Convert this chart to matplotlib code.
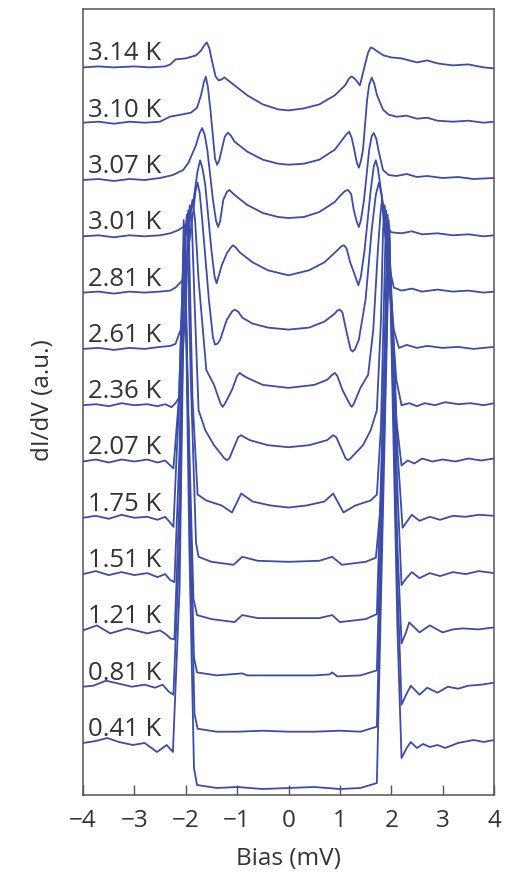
import matplotlib
matplotlib.use("Agg")
import matplotlib.pyplot as plt

plt.rcParams['font.family'] = ['Open Sans', 'DejaVu Sans']
plt.rcParams['axes.unicode_minus'] = True

# Temperature labels (bottom to top)
temps = ['0.41 K', '0.81 K', '1.21 K', '1.51 K', '1.75 K', '2.07 K', '2.36 K',
         '2.61 K', '2.81 K', '3.01 K', '3.07 K', '3.10 K', '3.14 K']

# dI/dV spectra (a.u.); bias in mV
bias_041 = [-4.0,-3.75,-3.53,-3.3,-3.03,-2.8,-2.56,-2.45,-2.37,-2.25,-2.12,-2.02,-1.93,-1.84,-1.78,-1.4,-1.0,-0.5,0.0,0.5,1.0,1.4,1.72,1.96,2.12,2.2,2.3,2.38,2.5,2.62,2.75,2.9,3.05,3.3,3.6,3.8,4.0]
didv_041 = [45,47,50,46,43,45,36,40,43,36,200,553,240,20,3,0,1,-1,0,1,-1,0,5,553,160,30,40,46,40,44,41,43,40,45,48,46,48]

bias_081 = [-4.0,-3.8,-3.55,-3.3,-3.05,-2.8,-2.6,-2.45,-2.33,-2.24,-2.12,-2.02,-1.92,-1.83,-1.77,-1.4,-1.0,-0.5,0.0,0.5,1.0,1.4,1.72,1.96,2.12,2.2,2.28,2.38,2.55,2.7,2.9,3.1,3.3,3.5,3.75,4.0]
didv_081 = [45,46,51,48,45,47,44,47,40,37,190,502,220,18,3,0,0,1,0,0,1,0,5,502,150,27,36,46,37,44,39,45,43,46,47,49]

bias_121 = [-4.0,-3.73,-3.47,-3.14,-2.9,-2.75,-2.5,-2.38,-2.3,-2.22,-2.12,-2.03,-1.93,-1.84,-1.78,-1.4,-0.9,-0.8,-0.5,0.0,0.5,0.8,0.85,0.95,1.4,1.72,1.96,2.12,2.2,2.28,2.35,2.55,2.75,3.0,3.2,3.4,3.7,4.0]
didv_121 = [45,50,42,47,44,42,45,41,37,36,180,450,200,18,3,0,2,0,0,0,0,1,3,-1,0,5,450,130,32,42,53,43,50,43,46,47,46,48]

bias_151 = [-4.0,-3.75,-3.5,-3.25,-3.0,-2.75,-2.55,-2.4,-2.3,-2.22,-2.12,-2.04,-1.94,-1.85,-1.78,-1.5,-1.05,-0.9,-0.6,0.0,0.6,0.85,1.0,1.5,1.72,1.95,2.12,2.2,2.28,2.4,2.55,2.75,2.95,3.2,3.45,3.7,4.0]
didv_151 = [45,48,44,47,44,46,42,45,39,37,170,399,190,20,4,0,-3,4,1,1,1,4,-3,0,5,399,130,34,40,47,41,46,43,47,45,48,46]

bias_175 = [-4.0,-3.75,-3.5,-3.25,-3.0,-2.75,-2.55,-2.4,-2.3,-2.24,-2.14,-2.05,-1.98,-1.9,-1.8,-1.75,-1.5,-1.07,-0.9,-0.6,0.0,0.6,0.85,1.04,1.5,1.7,1.8,1.93,2.05,2.12,2.22,2.4,2.55,2.75,2.95,3.2,3.45,3.7,4.0]
didv_175 = [45,47,44,48,45,46,43,46,40,36,150,300,348,180,20,6,1,-2,6,2,1,2,6,-2,1,5,60,348,220,113,35,48,42,46,43,47,46,48,47]

bias_207 = [-4.0,-3.75,-3.5,-3.25,-3.0,-2.75,-2.55,-2.4,-2.3,-2.24,-2.13,-2.04,-1.95,-1.87,-1.77,-1.6,-1.3,-1.1,-0.92,-0.7,-0.35,0.0,0.35,0.7,0.87,1.07,1.3,1.6,1.72,1.8,1.9,2.0,2.1,2.2,2.32,2.45,2.6,2.8,3.0,3.25,3.5,3.75,4.0]
didv_207 = [45,47,44,47,45,47,44,46,41,38,110,260,296,110,12,6,1,-6,13,5,1,-1,1,5,13,-6,1,6,12,80,296,200,86,41,46,43,48,45,47,45,48,46,48]

bias_236 = [-4.0,-3.75,-3.5,-3.25,-3.0,-2.75,-2.55,-2.4,-2.28,-2.2,-2.1,-2.0,-1.96,-1.92,-1.88,-1.83,-1.75,-1.62,-1.45,-1.25,-1.2,-1.15,-0.98,-0.92,-0.86,-0.75,-0.4,0.0,0.4,0.75,0.82,0.87,0.93,1.11,1.16,1.21,1.45,1.6,1.72,1.8,1.84,1.87,1.91,1.97,2.1,2.2,2.35,2.5,2.65,2.85,3.05,3.3,3.55,3.8,4.0]
didv_236 = [45,46,44,47,45,46,44,46,43,47,55,150,220,245,225,150,40,20,5,-8,-10,-8,13,15,13,10,5,3,5,10,13,15,13,-8,-10,-8,5,20,40,130,220,245,225,160,70,45,47,44,47,45,48,46,47,45,47]

bias_261 = [-4.0,-3.7,-3.4,-3.1,-2.8,-2.5,-2.3,-2.2,-2.1,-2.0,-1.92,-1.87,-1.82,-1.75,-1.6,-1.45,-1.32,-1.28,-1.24,-1.1,-1.0,-0.95,-0.9,-0.8,-0.5,0.0,0.5,0.75,0.85,0.9,0.95,1.05,1.19,1.23,1.27,1.4,1.55,1.65,1.74,1.79,1.82,1.86,1.92,2.05,2.15,2.3,2.5,2.7,3.0,3.3,3.6,4.0]
didv_261 = [45,46,44,46,45,47,48,50,64,114,175,194,175,114,24,9,-10,-13,-10,4,18,21,19,16,9,6,9,14,19,21,18,4,-10,-13,-10,6,19,64,144,180,194,182,134,64,46,49,46,48,46,47,45,47]

bias_281 = [-4.0,-3.7,-3.4,-3.1,-2.8,-2.5,-2.3,-2.2,-2.05,-1.95,-1.85,-1.81,-1.77,-1.73,-1.68,-1.55,-1.47,-1.43,-1.38,-1.33,-1.2,-1.1,-1.05,-0.98,-0.9,-0.7,-0.4,0.0,0.4,0.7,0.9,0.95,1.0,1.05,1.12,1.21,1.25,1.3,1.37,1.5,1.62,1.7,1.76,1.81,1.85,1.95,2.05,2.2,2.4,2.6,2.9,3.2,3.5,3.8,4.0]
didv_281 = [45,46,44,46,45,46,47,50,58,88,128,146,155,145,118,38,0,-7,-6,-2,18,26,28,26,20,14,10,8,10,16,24,27,28,25,8,-12,-14,-11,-2,38,108,143,155,143,118,73,50,47,49,46,48,46,47,45,46]

bias_301 = [-4.0,-3.7,-3.4,-3.1,-2.8,-2.5,-2.3,-2.15,-2.0,-1.85,-1.77,-1.72,-1.67,-1.62,-1.5,-1.44,-1.4,-1.36,-1.3,-1.2,-1.12,-1.08,-1.03,-0.95,-0.7,-0.4,0.0,0.4,0.7,0.95,1.03,1.08,1.13,1.2,1.3,1.36,1.41,1.48,1.6,1.66,1.7,1.74,1.8,1.9,2.0,2.2,2.4,2.6,2.9,3.2,3.5,3.8,4.0]
didv_301 = [45,46,44,46,45,46,48,51,56,81,110,121,112,96,31,5,-2,5,16,28,34,36,34,29,19,11,6,11,19,31,35,36,33,19,5,-4,5,31,91,115,121,113,91,56,49,48,50,47,48,46,47,45,46]

bias_307 = [-4.0,-3.7,-3.4,-3.1,-2.8,-2.5,-2.25,-2.05,-1.95,-1.8,-1.73,-1.68,-1.63,-1.58,-1.47,-1.41,-1.37,-1.33,-1.27,-1.2,-1.15,-1.09,-1.0,-0.8,-0.5,-0.2,0.0,0.3,0.6,0.9,1.0,1.1,1.16,1.22,1.27,1.33,1.37,1.41,1.47,1.57,1.62,1.66,1.71,1.75,1.84,1.95,2.1,2.3,2.5,2.7,3.0,3.3,3.6,4.0]
didv_307 = [45,46,44,46,45,47,50,55,62,80,92,97,90,75,25,4,-2,4,25,33,35,32,28,20,12,8,7,8,13,23,29,34,35,31,15,3,-2,5,25,75,89,92,86,75,55,50,49,51,48,49,47,48,46,47]

bias_310 = [-4.0,-3.7,-3.4,-3.1,-2.8,-2.5,-2.31,-2.1,-1.9,-1.78,-1.7,-1.65,-1.61,-1.57,-1.52,-1.43,-1.39,-1.35,-1.3,-1.24,-1.18,-1.12,-1.05,-0.8,-0.5,-0.2,0.0,0.3,0.6,0.9,1.05,1.12,1.18,1.23,1.28,1.33,1.37,1.41,1.45,1.53,1.57,1.62,1.67,1.72,1.84,1.95,2.1,2.3,2.5,2.7,2.9,3.2,3.5,3.8,4.0]
didv_310 = [46,47,45,47,46,47,52,54,56,61,74,86,92,82,59,10,4,8,19,32,36,33,27,17,9,5,4,5,9,19,29,34,37,31,19,6,1,8,19,69,84,91,85,74,59,54,52,53,50,51,48,47,48,46,47]

bias_314 = [-4.0,-3.7,-3.4,-3.0,-2.7,-2.4,-2.3,-2.2,-2.0,-1.8,-1.7,-1.64,-1.59,-1.54,-1.5,-1.42,-1.36,-1.3,-1.25,-1.1,-0.8,-0.5,-0.2,0.0,0.3,0.6,0.9,1.1,1.18,1.23,1.28,1.32,1.39,1.5,1.55,1.6,1.65,1.7,1.85,2.0,2.2,2.5,2.7,2.9,3.2,3.5,3.8,4.0]
didv_314 = [45,46,45,46,45,46,48,53,54,57,62,67,70,64,54,36,32,33,35,29,17,8,3,2,4,8,17,27,34,36,34,32,27,50,60,65,64,62,57,55,54,50,52,49,47,48,45,44]

spectra = [(bias_041, didv_041), (bias_081, didv_081), (bias_121, didv_121),
           (bias_151, didv_151), (bias_175, didv_175), (bias_207, didv_207),
           (bias_236, didv_236), (bias_261, didv_261), (bias_281, didv_281),
           (bias_301, didv_301), (bias_307, didv_307), (bias_310, didv_310),
           (bias_314, didv_314)]

offset_step = 56.3
normal_level = 45
line_color = '#3b4caa'
text_color = '#333333'

fig = plt.figure(figsize=(5.15, 8.75), dpi=100)
ax = fig.add_axes([83/515, 1-795/875, (494-83)/515, (795-9)/875])

for i, ((b, g), lab) in enumerate(zip(spectra, temps)):
    off = i * offset_step
    ax.plot(b, [v + off for v in g], color=line_color, lw=1.3,
            solid_joinstyle='round', solid_capstyle='round')
    ax.text(-3.91, off + normal_level + 7, lab, fontsize=18.5, color=text_color,
            ha='left', va='baseline')

ax.set_xlim(-4, 4)
ax.set_ylim(-7, 779)
ax.set_xticks([-4, -3, -2, -1, 0, 1, 2, 3, 4])
ax.set_yticks([])
ax.tick_params(axis='x', direction='in', length=7, width=1, color='#555555',
               labelsize=17.5, labelcolor=text_color, pad=10)
for s in ax.spines.values():
    s.set_color('#555555')
    s.set_linewidth(1.1)

ax.set_xlabel('Bias (mV)', fontsize=17.5, color=text_color, labelpad=10)
ax.set_ylabel('dI/dV (a.u.)', fontsize=17.5, color=text_color)
ax.yaxis.set_label_coords(-0.068, 0.503)

fig.savefig('out.png', dpi=100)
